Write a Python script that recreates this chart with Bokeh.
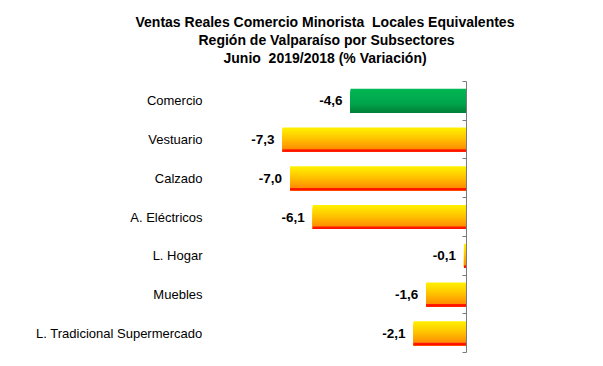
from bokeh.plotting import figure
from bokeh.models import ColumnDataSource, Range1d, FixedTicker, Title
from bokeh.core.properties import value
from bokeh.embed import file_html
from bokeh.resources import INLINE

# ---- data ----
categories = ["Comercio", "Vestuario", "Calzado", "A. Eléctricos",
              "L. Hogar", "Muebles", "L. Tradicional Supermercado"]
values = [-4.6, -7.3, -7.0, -6.1, -0.1, -1.6, -2.1]
highlight = ["Comercio"]
title_lines = ["Ventas Reales Comercio Minorista\u00a0 Locales Equivalentes",
               "Región de Valparaíso por Subsectores",
               "Junio\u00a0 2019/2018 (% Variación)"]

FONT = "Liberation Sans"
PX_PER_UNIT = 25.2
FRAME_W, FRAME_H = 458, 271
n = len(categories)

p = figure(frame_width=FRAME_W, frame_height=FRAME_H,
           x_range=Range1d(-FRAME_W / PX_PER_UNIT, 0),
           y_range=Range1d(n, 0),
           x_axis_location=None, y_axis_location="right",
           output_backend="svg", toolbar_location=None,
           min_border_left=8, min_border_right=100,
           min_border_top=81, min_border_bottom=6)
p.outline_line_color = None
p.grid.visible = False
p.background_fill_color = "white"

ax = p.yaxis[0]
ax.ticker = FixedTicker(ticks=list(range(n + 1)))
ax.major_tick_out = 0
ax.major_tick_in = 4
ax.minor_tick_line_color = None
ax.axis_line_color = "#7a7a7a"
ax.major_tick_line_color = "#7a7a7a"
ax.major_label_text_font_size = "1px"
ax.major_label_text_color = "white"
ax.major_label_overrides = {i: " " for i in range(n + 1)}

# ---- gradient bars built from overlapping strips ----
def interp(stops, t):
    for (t0, c0), (t1, c1) in zip(stops[:-1], stops[1:]):
        if t0 <= t <= t1:
            f = 0 if t1 == t0 else (t - t0) / (t1 - t0)
            return tuple(int(round(a + (b - a) * f)) for a, b in zip(c0, c1))
    return stops[-1][1]

warm = [(0.0, (255, 242, 0)), (0.45, (255, 196, 0)), (0.9, (255, 140, 0)),
        (0.91, (255, 30, 0)), (1.0, (255, 10, 0))]
green = [(0.0, (0, 184, 84)), (0.6, (0, 165, 75)), (1.0, (0, 128, 56))]

N = 30
bar_h = 0.62
ys, lefts, cols, hs = [], [], [], []
for i, (c, v) in enumerate(zip(categories, values)):
    yc = i + 0.5
    top = yc - bar_h / 2
    stops = green if c in highlight else warm
    for k in range(N):
        t0 = k / N
        h = bar_h * (1 - t0)
        ys.append(top + t0 * bar_h + h / 2)
        hs.append(h)
        lefts.append(v)
        r, g, b = interp(stops, (k + 0.5) / N)
        cols.append("#%02x%02x%02x" % (r, g, b))

src = ColumnDataSource(dict(y=ys, left=lefts, right=[0] * len(ys), color=cols, h=hs))
p.hbar(y="y", left="left", right="right", height="h", fill_color="color",
       line_color=None, source=src)

# ---- labels ----
lab_src = ColumnDataSource(dict(
    y=[i + 0.5 for i in range(n)],
    x=values,
    cat=categories,
    txt=[("%.1f" % v).replace(".", ",") for v in values],
    catx=[-FRAME_W / PX_PER_UNIT + 194 / PX_PER_UNIT] * n,
))
p.text(x="catx", y="y", text="cat", source=lab_src, text_align="right",
       text_baseline="middle", text_font=value(FONT), text_font_size="13px",
       text_color="black")
p.text(x="x", y="y", text="txt", source=lab_src, text_align="right",
       text_baseline="middle", text_font=value(FONT), text_font_size="13.5px",
       text_font_style="bold", text_color="black", x_offset=-8)

# ---- title (three lines, last line nearest the plot) ----
p.add_layout(Title(text=" ", text_font_size="12px", standoff=0), "above")
offsets = [127, 190, 215]
for line, off in reversed(list(zip(title_lines, offsets))):
    p.add_layout(Title(text=line, align="left", offset=off,
                       text_font=FONT, text_font_size="14px",
                       text_font_style="bold", text_color="black",
                       standoff=0), "above")

open("out.html", "w").write(file_html(p, INLINE))
